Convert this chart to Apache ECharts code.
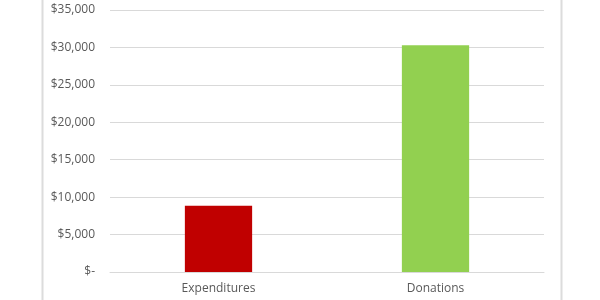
<!DOCTYPE html>
<html>
<head>
<meta charset="utf-8">
<script src="https://cdn.jsdelivr.net/npm/echarts@6/dist/echarts.min.js"></script>
<style>html,body{margin:0;padding:0;background:#fff;}#c{width:600px;height:300px;}</style>
</head>
<body>
<div id="c"></div>
<script>
const categories = ["Expenditures", "Donations"];
const values = [8850, 30300];
const barColors = ["#C00000", "#92D050"];
const yTicks = [0, 5000, 10000, 15000, 20000, 25000, 30000, 35000];

const chart = echarts.init(document.getElementById('c'));
function fmt(v) {
  if (v === 0) return '$-';
  return '$' + v.toLocaleString('en-US');
}
chart.setOption({
  animation: false,
  textStyle: { fontFamily: 'Open Sans' },
  graphic: [{
    type: 'rect', left: 40, top: -5,
    shape: { width: 519, height: 310 },
    style: { fill: 'none', stroke: '#dcdcdc', lineWidth: 2 }, silent: true
  }],
  grid: { left: 110, right: 56, top: 10, bottom: 28, containLabel: false },
  xAxis: {
    type: 'category', data: categories,
    axisLine: { show: true, lineStyle: { color: '#d9d9d9' } },
    axisTick: { show: false },
    axisLabel: { color: '#595959', fontSize: 12, margin: 11, fontFamily: 'Open Sans' }
  },
  yAxis: {
    type: 'value', min: 0, max: 35000, interval: 5000,
    axisLine: { show: false }, axisTick: { show: false },
    splitLine: { lineStyle: { color: '#d9d9d9', width: 1 } },
    axisLabel: { color: '#595959', fontSize: 12, margin: 15, formatter: fmt, fontFamily: 'Open Sans' }
  },
  series: [{
    type: 'bar', barWidth: '31%',
    data: values.map((v, i) => ({ value: v, itemStyle: { color: barColors[i] } }))
  }]
});
</script>
</body>
</html>
